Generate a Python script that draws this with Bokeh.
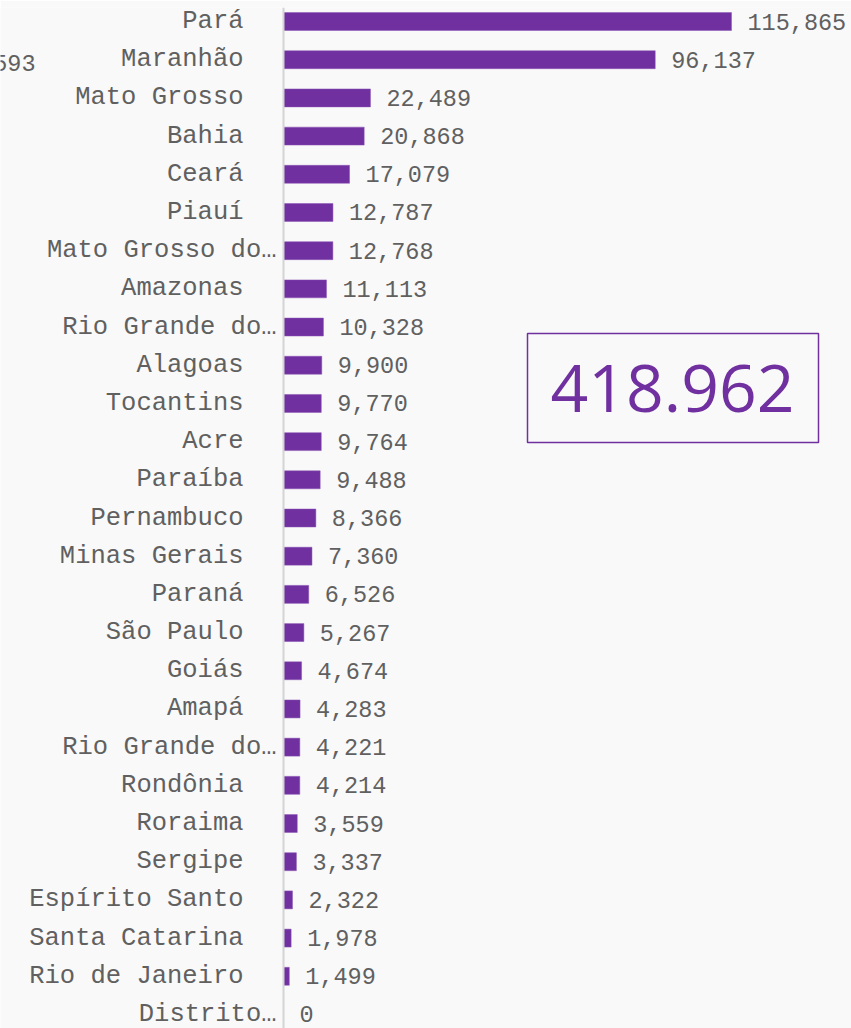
from bokeh.plotting import figure
from bokeh.models import ColumnDataSource, Range1d, FactorRange, Span, Label, BoxAnnotation
from bokeh.core.properties import value
from bokeh.embed import file_html
from bokeh.resources import INLINE

# ---- data ----
states = ["Pará", "Maranhão", "Mato Grosso", "Bahia", "Ceará", "Piauí",
          "Mato Grosso do Sul", "Amazonas", "Rio Grande do Norte", "Alagoas",
          "Tocantins", "Acre", "Paraíba", "Pernambuco", "Minas Gerais", "Paraná",
          "São Paulo", "Goiás", "Amapá", "Rio Grande do Sul", "Rondônia",
          "Roraima", "Sergipe", "Espírito Santo", "Santa Catarina",
          "Rio de Janeiro", "Distrito Federal"]
shown_labels = ["Pará", "Maranhão", "Mato Grosso", "Bahia", "Ceará", "Piauí",
                "Mato Grosso do…", "Amazonas", "Rio Grande do…", "Alagoas",
                "Tocantins", "Acre", "Paraíba", "Pernambuco", "Minas Gerais", "Paraná",
                "São Paulo", "Goiás", "Amapá", "Rio Grande do…", "Rondônia",
                "Roraima", "Sergipe", "Espírito Santo", "Santa Catarina",
                "Rio de Janeiro", "Distrito…"]
values = [115865, 96137, 22489, 20868, 17079, 12787, 12768, 11113, 10328, 9900,
          9770, 9764, 9488, 8366, 7360, 6526, 5267, 4674, 4283, 4221, 4214,
          3559, 3337, 2322, 1978, 1499, 0]
total_text = "418.962"
clipped_text = "593"

PURPLE = "#7030A0"
GRAY = "#606060"
BG = "#f9f9f9"

W, H = 851, 1028
axis_px = 283            # screen position of the zero line
px_per_unit = 448 / 115865

src = ColumnDataSource(dict(
    state=states,
    label=shown_labels,
    value=values,
    vtext=[f"{v:,}" for v in values],
    loff=[-7 if s.endswith("…") else -40 for s in shown_labels],
))

p = figure(width=W, height=H, output_backend="svg", toolbar_location=None,
           x_range=Range1d(-axis_px / px_per_unit, (W - axis_px) / px_per_unit),
           y_range=FactorRange(factors=states[::-1], range_padding=-0.1325,
                               range_padding_units="absolute"),
           x_axis_location=None, y_axis_location=None,
           min_border=0, min_border_top=7,
           background_fill_color=BG, border_fill_color=BG,
           outline_line_color=None)
p.grid.visible = False

p.add_layout(Span(location=0, dimension="height", line_color="#d4d4d4", line_width=2))

p.hbar(y="state", right="value", left=0, height=0.47, source=src,
       fill_color=PURPLE, line_color="#8a55b5", line_width=0.5)

p.text(x=0, y="state", text="label", x_offset="loff", source=src,
       text_align="right", text_baseline="middle",
       text_font=value("Liberation Mono"), text_font_size="25.5px", text_color=GRAY)

p.text(x="value", y="state", text="vtext", x_offset=16, source=src,
       text_align="left", text_baseline="middle",
       text_font=value("Liberation Mono"), text_font_size="23.5px", text_color=GRAY)

p.add_layout(Label(x=35, y=H - 62, x_units="screen", y_units="screen",
                   text=clipped_text, text_align="right", text_baseline="middle",
                   text_font="Liberation Mono", text_font_size="23.5px",
                   text_color=GRAY))

p.add_layout(BoxAnnotation(left=527, right=818, top=H - 333, bottom=H - 442,
                           left_units="screen", right_units="screen",
                           top_units="screen", bottom_units="screen",
                           fill_color=None, fill_alpha=0,
                           line_color=PURPLE, line_width=1.5, line_alpha=1))

p.add_layout(Label(x=672, y=H - 388, x_units="screen", y_units="screen",
                   text=total_text, text_align="center", text_baseline="middle",
                   text_font="Open Sans", text_font_size="66px",
                   text_color=PURPLE))

open("out.html", "w").write(file_html(p, INLINE))
